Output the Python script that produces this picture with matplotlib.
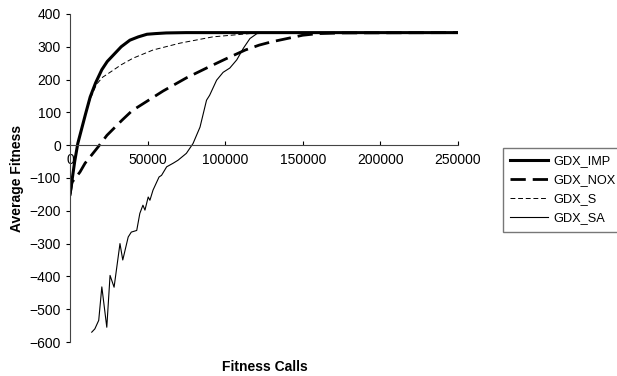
import matplotlib
matplotlib.use("Agg")
import matplotlib.pyplot as plt

plt.rcParams["font.family"] = ["Liberation Sans", "DejaVu Sans"]
plt.rcParams["lines.scale_dashes"] = False

# Valores (llamadas de fitness, fitness medio)
imp_x = [0, 1500, 3000, 5000, 7500, 10000, 13000, 16500, 20500, 24000, 28000, 33000,
         38600, 44000, 49600, 55000, 62000, 75000, 100000, 250000]
imp_y = [-150, -100, -50, 5, 50, 95, 147, 190, 230, 255, 275, 300,
         320, 330, 338, 340, 342, 343, 343, 343]

nox_x = [0, 1300, 6400, 9700, 18000, 23800, 33500, 40000, 50000, 60000, 75000, 88000,
         100000, 113000, 122000, 130000, 140000, 150000, 160000, 175000, 250000]
nox_y = [-150, -113, -82, -55, -6, 30, 76, 105, 135, 165, 205, 235,
         262, 290, 305, 315, 325, 335, 340, 342, 343]

s_x = [0, 1500, 3000, 5000, 7500, 10000, 13000, 17000, 21000, 25800, 33000, 40600,
       53500, 71000, 92000, 118000, 135000, 250000]
s_y = [-150, -100, -50, 5, 50, 95, 140, 185, 207, 222, 245, 265,
       290, 311, 330, 341, 343, 343]

sa_x = [14000, 16000, 18500, 20500, 23700, 25800, 28400, 32200, 34000, 37500, 39500, 43000,
        45000, 47000, 48300, 50400, 51500, 53500, 57400, 59000, 62300, 66500, 69600, 75000,
        79300, 83800, 88000, 90000, 94500, 98700, 103000, 107500, 111700, 116000, 120500,
        130000, 250000]
sa_y = [-570, -560, -534, -432, -555, -397, -433, -300, -350, -280, -265, -260,
        -208, -183, -198, -158, -168, -137, -97, -92, -66, -55, -46, -25,
        5, 55, 137, 152, 198, 222, 235, 260, 295, 325, 340,
        343, 343]

fig = plt.figure(figsize=(6.17, 3.76), dpi=100)
ax = fig.add_axes([0.1135, 0.0904, 0.6285, 0.8726])

ax.plot(imp_x, imp_y, color="black", lw=2.2, label="GDX_IMP")
l_nox, = ax.plot(nox_x, nox_y, color="black", lw=2.0, label="GDX_NOX")
l_nox.set_dashes((11, 5))
l_s, = ax.plot(s_x, s_y, color="black", lw=0.7, label="GDX_S")
l_s.set_dashes((3.5, 2))
ax.plot(sa_x, sa_y, color="black", lw=0.8, label="GDX_SA")

ax.set_xlim(0, 250000)
ax.set_ylim(-600, 400)
ax.set_yticks(range(-600, 401, 100))
ax.set_xticks(range(0, 250001, 50000))
ax.tick_params(axis="both", labelsize=10, length=3, width=0.8)
ax.tick_params(axis="x", direction="in", pad=6)
ax.tick_params(axis="y", direction="out")

for lado in ("top", "right"):
    ax.spines[lado].set_visible(False)
ax.spines["bottom"].set_position(("data", 0))
ax.spines["bottom"].set_color("#444444")
ax.spines["left"].set_color("#444444")

ax.set_ylabel("Average Fitness", fontsize=10, fontweight="bold", labelpad=4)
fig.text(0.43, 0.013, "Fitness Calls", fontsize=10, fontweight="bold", ha="center")

ax.legend(loc="upper left", bbox_to_anchor=(1.116, 0.59), fontsize=9.2,
          frameon=True, fancybox=False, edgecolor="#555555", handlelength=3.0,
          handletextpad=0.4, borderaxespad=0, borderpad=0.55, labelspacing=0.55)

fig.savefig("out.png", dpi=100)
